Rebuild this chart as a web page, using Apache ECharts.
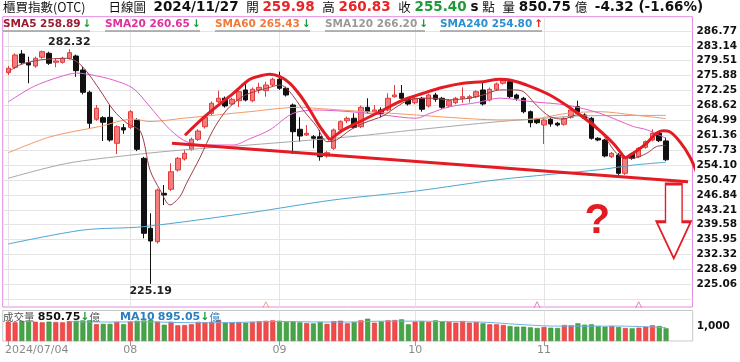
<!DOCTYPE html>
<html><head><meta charset="utf-8">
<script src="https://cdn.jsdelivr.net/npm/echarts@6/dist/echarts.min.js"></script>
<style>html,body{margin:0;padding:0;background:#fff}#c{width:740px;height:362px}</style>
</head><body><div id="c"></div>
<script>
// ---------- DATA ----------
const dates = [
'2024/07/04','2024/07/05','2024/07/08','2024/07/09','2024/07/10','2024/07/11','2024/07/12','2024/07/15','2024/07/16','2024/07/17','2024/07/18','2024/07/19','2024/07/22','2024/07/23','2024/07/26','2024/07/29','2024/07/30','2024/07/31',
'2024/08/01','2024/08/02','2024/08/05','2024/08/06','2024/08/07','2024/08/08','2024/08/09','2024/08/12','2024/08/13','2024/08/14','2024/08/15','2024/08/16','2024/08/19','2024/08/20','2024/08/21','2024/08/22','2024/08/23','2024/08/26','2024/08/27','2024/08/28','2024/08/29','2024/08/30',
'2024/09/02','2024/09/03','2024/09/04','2024/09/05','2024/09/06','2024/09/09','2024/09/10','2024/09/11','2024/09/12','2024/09/13','2024/09/16','2024/09/18','2024/09/19','2024/09/20','2024/09/23','2024/09/24','2024/09/25','2024/09/26','2024/09/27','2024/09/30',
'2024/10/01','2024/10/04','2024/10/07','2024/10/08','2024/10/09','2024/10/11','2024/10/14','2024/10/15','2024/10/16','2024/10/17','2024/10/18','2024/10/21','2024/10/22','2024/10/23','2024/10/24','2024/10/25','2024/10/28','2024/10/29','2024/10/30',
'2024/11/01','2024/11/04','2024/11/05','2024/11/06','2024/11/07','2024/11/08','2024/11/11','2024/11/12','2024/11/13','2024/11/14','2024/11/15','2024/11/18','2024/11/19','2024/11/20','2024/11/21','2024/11/22','2024/11/25','2024/11/26','2024/11/27'];
// [open, close, low, high]
const ohlc = [
[276.60,277.67,276.04,278.23],[277.91,280.91,277.50,281.30],[281.15,279.03,278.70,282.10],[279.03,278.47,274.02,280.49],[278.23,280.10,277.80,280.50],
[280.35,281.71,280.00,282.00],[281.32,278.89,278.50,281.70],[279.13,279.45,277.91,280.10],[279.13,280.10,278.80,280.50],[280.10,281.47,279.80,282.32],
[280.66,277.09,275.62,281.00],[277.26,271.83,271.30,278.06],[271.83,264.28,263.06,272.20],[265.25,267.93,264.90,268.73],[265.64,264.52,259.97,266.00],
[265.74,260.21,259.80,268.73],[259.41,263.45,256.80,263.80],[263.21,262.65,261.70,264.10],[263.30,267.10,262.90,267.50],[265.08,257.95,257.50,265.50],
[255.75,237.49,236.28,256.10],[238.71,235.62,225.19,242.36],[235.45,248.04,235.00,248.40],[247.23,246.82,244.39,249.25],[248.21,252.49,247.80,254.54],
[252.91,255.75,252.50,256.10],[255.59,256.97,255.20,257.78],[257.95,260.38,257.60,260.80],[260.38,262.40,260.00,262.80],[263.45,265.74,263.00,266.10],
[266.71,269.15,266.30,269.60],[269.54,270.37,269.20,272.22],[270.37,268.49,268.10,270.80],[268.98,270.12,268.60,270.50],[269.78,271.97,268.25,272.40],
[272.39,269.95,269.60,274.02],[269.78,272.56,269.40,273.00],[272.39,273.04,271.58,274.16],[272.22,273.60,270.75,274.41],[273.60,275.00,273.20,275.40],
[275.00,272.80,272.40,276.84],[272.80,271.17,270.80,273.20],[268.73,262.23,256.80,269.10],[262.82,261.18,259.80,265.74],[261.43,261.84,261.20,263.86],
[261.01,260.63,258.19,261.40],[261.01,256.14,255.17,262.65],[256.32,257.12,255.90,257.50],[258.19,262.65,257.80,263.00],[262.65,264.67,262.30,265.00],
[264.91,265.50,264.30,265.90],[265.50,263.30,263.00,266.71],[263.45,268.17,263.10,268.60],[268.17,267.10,266.80,270.37],[267.10,267.52,266.90,268.73],
[267.52,266.71,265.74,268.17],[267.52,270.37,267.20,271.58],[270.75,271.17,270.50,273.60],[271.58,270.37,270.00,273.60],[270.37,268.98,268.60,270.70],
[269.29,270.37,268.90,270.70],[270.37,267.69,267.10,270.70],[268.49,271.17,268.10,271.50],[271.17,270.12,269.50,271.70],[270.37,268.17,267.80,270.70],
[268.49,269.78,268.10,270.10],[269.29,270.37,268.90,270.70],[270.37,270.75,269.29,273.04],[270.37,270.75,269.30,271.20],[270.75,271.97,270.40,272.30],
[272.39,268.98,268.60,274.16],[269.95,272.56,269.60,273.00],[272.56,273.85,272.20,274.20],[274.02,274.82,273.70,275.20],[274.41,270.75,270.40,274.80],
[271.17,270.37,269.78,271.50],[270.37,267.10,266.70,270.70],[267.10,264.42,263.30,267.40],[265.25,264.42,264.10,265.60],[263.86,265.08,259.24,265.40],
[265.25,264.11,263.45,265.60],[264.28,263.86,263.50,264.60],[264.03,265.50,263.70,265.80],[265.74,267.52,265.40,267.90],[268.32,266.71,266.30,269.78],
[266.30,265.50,265.10,266.70],[265.50,260.63,260.30,265.80],[260.63,260.21,259.90,260.90],[260.21,256.32,256.00,260.50],[256.14,256.97,255.80,257.30],
[256.56,252.10,251.70,257.00],[252.10,256.14,251.70,256.50],[256.80,255.75,255.40,257.10],[256.14,258.19,255.80,258.50],[258.43,259.80,258.10,260.10],
[260.21,261.84,259.90,262.82],[261.84,260.04,259.70,262.20],[259.98,255.40,255.10,260.83]];
// volume (億)
const volume = [
1290,1250,1340,1290,1290,1250,1300,1270,1250,1330,1360,1380,1390,1130,1150,1150,1290,1130,1300,1360,
1380,1420,1300,1090,1290,1050,1070,1120,1280,1260,1290,1420,1240,1250,1270,1230,1280,1320,1350,1380,
1360,1280,1330,1250,1200,1180,1280,1150,1330,1360,1185,1273,1385,1496,1228,1318,1385,1407,1452,1117,
1295,1340,1273,1385,1295,1273,1228,1340,1228,1273,1185,1117,1117,1072,1005,960,960,915,871,938,
893,871,1072,1050,1185,1095,1117,1005,960,1005,938,871,848,893,960,1050,1005,850.75];
// moving averages: [index, value]
const sma5 = [[0,276.8],[1.7,278.5],[4.7,279.7],[8.6,280.1],[10.1,279.3],[11.6,276.8],[13.5,272.4],[15.5,267.5],[17.5,264.3],[19.5,262.3],[20.9,252.9],[22.4,248.0],[23.85,244.4],[25.3,246.4],[26.3,249.7],[28.3,256.0],[30.2,262.6],[32.2,267.5],[34.2,270.4],[35.6,271.6],[38.1,272.8],[40.1,273.6],[41.5,272.0],[43.5,267.5],[45.5,263.5],[47.0,259.8],[48.4,260.2],[50.4,262.6],[52.4,264.3],[55.3,266.1],[57.3,268.3],[59.2,270.0],[62.2,270.4],[65.1,270.0],[68.1,270.4],[70.1,271.2],[72.5,272.4],[74.5,272.4],[76.0,272.0],[77.9,268.7],[79.9,265.9],[81.9,265.3],[83.8,266.3],[85.3,265.9],[86.8,263.5],[88.3,260.2],[89.7,257.0],[90.9,255.8],[92.2,255.8],[94.2,257.0],[95.6,258.6],[97,258.89]];
const sma20 = [[0,269.5],[3.7,273.2],[7.6,275.6],[10.1,276.5],[12.5,276.0],[15.5,274.8],[18.4,272.8],[20.9,268.3],[23.4,263.5],[25.8,260.2],[28.3,259.0],[33.2,259.0],[35.6,260.5],[38.6,262.7],[42.0,266.7],[45.5,267.5],[50.4,267.1],[55.3,266.3],[60.2,265.5],[62.2,266.7],[65.1,268.3],[69.1,269.3],[72.5,270.4],[77.4,269.5],[82.4,268.7],[87.3,266.7],[92.2,263.5],[94.2,262.7],[97,260.65]];
const sma60 = [[0,257.1],[6.2,261.0],[13.5,263.5],[18.4,265.3],[20.9,264.7],[25.8,265.5],[30.7,266.3],[35.6,267.1],[43.0,268.2],[45.5,267.9],[52.9,267.1],[60.2,266.3],[65.1,265.7],[72.5,265.1],[77.4,265.3],[82.4,266.7],[87.3,267.1],[92.2,266.3],[97,265.43]];
const sma120 = [[0,250.9],[8.6,254.5],[18.4,256.6],[25.8,257.8],[35.6,259.0],[50.4,261.0],[60.2,262.7],[72.5,264.7],[77.4,265.3],[84.8,266.1],[97,266.20]];
const sma240 = [[0,234.9],[11.1,238.3],[19.9,239.1],[35.6,242.5],[47.9,245.6],[60.2,247.8],[72.5,250.6],[87.3,253.0],[92.2,254.1],[97,254.80]];
const volMa10 = [[9,1295],[15,1270],[20,1290],[25,1240],[30,1220],[35,1260],[40,1310],[45,1280],[50,1270],[55,1330],[60,1330],[65,1300],[70,1265],[75,1120],[80,1005],[85,995],[90,1000],[94,955],[97,895.05]];
// y-axis ticks and labels
const yGridValues = [221.43,225.06,228.69,232.32,235.95,239.58,243.21,246.84,250.47,254.10,257.73,261.36,264.99,268.62,272.25,275.88,279.51,283.14,286.77];
const yLabelValues = [225.06,228.69,232.32,235.95,239.58,243.21,246.84,250.47,254.10,257.73,261.36,264.99,268.62,272.25,275.88,279.51,283.14,286.77];
const volLabelValues = [1000];
// hand-drawn annotations, in [index, value]
const neckline = [[24.14,259.41],[100.28,250.06]];
const arcA = [[26.06,261.36],[29.26,266.30],[33.18,271.58],[35.64,274.99],[37.12,275.80],[38.59,276.21],[40.07,275.62],[41.54,274.02],[43.02,271.17],[44.49,267.52],[45.97,263.45],[47.44,260.21]];
const arcB = [[47.44,260.21],[49.40,262.65],[52.35,265.08],[55.30,267.52],[58.25,269.95],[61.20,271.58],[64.15,273.04],[67.10,274.02],[70.05,274.41],[72.51,274.99],[74.0,274.82],[76.45,273.60],[79.88,271.17],[83.32,267.52],[86.27,263.86],[89.22,259.41],[90.94,255.76]];
const arcC = [[90.94,255.76],[92.17,256.97],[94.15,259.41],[95.62,261.84],[96.59,262.48],[97.58,262.23],[99.06,259.80],[100.53,256.14],[101.52,252.42]];
const arrowAt = [98.15,240.44];
const questionAt = [86.9,240.4];
const deductIdx = [38,78,93];
const deductVal = 220.1;
// header texts
const titleInfo = {name:'櫃買指數(OTC)', kind:'日線圖', date:'2024/11/27', open:'259.98', high:'260.83', close:'255.40', vol:'850.75', chg:'-4.32 (-1.66%)'};
const legendNames = ['SMA5','SMA20','SMA60','SMA120','SMA240'];
const legendValues = ['258.89','260.65','265.43','266.20','254.80'];
const legendDir = ['↓','↓','↓','↓','↑'];
const volHeader = {vol:'850.75', ma:'MA10', maVal:'895.05'};

// ---------- CHART ----------
const RED='#E31B23';
const maColors = ['#9C3F48','#E35EC8','#F29A66','#A8A8A8','#4EA6D2'];
const legendColors = ['#9B1B30','#E0309E','#F07A3A','#999999','#2B8FD0'];
const up = i => ohlc[i][1] >= ohlc[i][0];
const monthIdx = dates.map((d,i)=> (i===0 || d.slice(5,7)!==dates[i-1].slice(5,7)) ? i : -1).filter(i=>i>=0);

const chart = echarts.init(document.getElementById('c'), null, {renderer:'canvas'});
const xCommon = {type:'value', min:-0.826, max:100.93, axisLine:{show:false}};
function maSeries(data, color){
  return {type:'line', xAxisIndex:0, yAxisIndex:0, data, smooth:0.3, showSymbol:false, symbol:'none',
    lineStyle:{width:1, color}, z:3, silent:true};
}
function annoSeries(data, extra){
  return Object.assign({type:'line', xAxisIndex:0, yAxisIndex:0, data, smooth:0.35, showSymbol:false, symbol:'none', clip:false,
    lineStyle:{width:3, color:RED}, z:10, silent:true}, extra||{});
}
const lgX = [3,105,215,325,440];
const lgW = [87,95,95,100,102];
const graphics = [];
// title
graphics.push({type:'text', x:3, y:7, style:{
  text:`{a|${titleInfo.name}}      {a|${titleInfo.kind}}  {d|${titleInfo.date}}  {a|開} {r|${titleInfo.open}}  {a|高} {r|${titleInfo.high}}  {a|收} {g|${titleInfo.close}} {d|s} {a|點}  {a|量} {d|${titleInfo.vol}} {a|億}  {d|${titleInfo.chg}}`,
  verticalAlign:'middle', fontSize:12, fontFamily:'DejaVu Sans',
  rich:{
    a:{fontFamily:'Noto Sans CJK TC', fontSize:12.5, fill:'#111'},
    d:{fontFamily:'DejaVu Sans', fontWeight:'bold', fontSize:13.5, fill:'#111'},
    r:{fontFamily:'DejaVu Sans', fontWeight:'bold', fontSize:13.5, fill:'#E8262A'},
    g:{fontFamily:'DejaVu Sans', fontWeight:'bold', fontSize:13.5, fill:'#1E9A38'}
  }}});
legendNames.forEach((n,k)=>{
  graphics.push({type:'rect', shape:{x:lgX[k], y:30.2, width:lgW[k], height:1.6}, style:{fill:'#9d9d9d'}, z:50});
  graphics.push({type:'text', x:lgX[k], y:24.5, z:51, style:{
    text:`{t|${n} ${legendValues[k]}}{a|${legendDir[k]}}`, verticalAlign:'middle',
    rich:{t:{fontFamily:'DejaVu Sans', fontWeight:'bold', fontSize:10.5, fill:legendColors[k]},
          a:{fontFamily:'DejaVu Sans', fontWeight:'bold', fontSize:10.5, fill: legendDir[k]==='↑' ? '#E82020' : '#1A9A3A', padding:[0,0,0,2]}}}});
});
graphics.push({type:'text', x:3, y:317.5, z:51, style:{
  text:`{g|成交量} {b|${volHeader.vol}}{ar|↓}{g|億}`, verticalAlign:'middle',
  rich:{g:{fontFamily:'Noto Sans CJK TC', fontSize:10.5, fill:'#555'}, b:{fontFamily:'DejaVu Sans', fontWeight:'bold', fontSize:11, fill:'#111'},
        ar:{fontFamily:'DejaVu Sans', fontWeight:'bold', fontSize:11, fill:'#1A9A3A'}}}});
graphics.push({type:'text', x:120, y:317.5, z:51, style:{
  text:`{m|${volHeader.ma}}{b|${volHeader.maVal}}{ar|↓}{c|億}`, verticalAlign:'middle',
  rich:{m:{fontFamily:'DejaVu Sans', fontWeight:'bold', fontSize:11, fill:'#2B7FC0', padding:[0,3,0,0]}, b:{fontFamily:'DejaVu Sans', fontWeight:'bold', fontSize:11, fill:'#2B7FC0'},
        ar:{fontFamily:'DejaVu Sans', fontWeight:'bold', fontSize:11, fill:'#1A9A3A'}, c:{fontFamily:'Noto Sans CJK TC', fontSize:10.5, fill:'#2B7FC0'}}}});

const arrowPath = 'path://M9,0L25.6,0L25.6,37.7L34.3,37.7L17.3,74.3L0,37.7L9,37.7Z';

chart.setOption({
  animation:false,
  backgroundColor:'#fff',
  textStyle:{fontFamily:'DejaVu Sans'},
  grid:[
    {left:2.7, top:16.7, width:690, height:290.3, show:true, borderColor:'#E38BE0', borderWidth:1},
    {left:2.7, top:310.5, width:690, height:30.5, show:true, borderColor:'#C9C9C9', borderWidth:1}
  ],
  xAxis:[
    Object.assign({gridIndex:0, axisTick:{show:false, customValues:monthIdx}, axisLabel:{show:false}, splitLine:{show:true, lineStyle:{color:'#E4E4E4'}}}, xCommon),
    Object.assign({gridIndex:1, axisTick:{show:true, customValues:monthIdx, length:5, lineStyle:{color:'#999'}},
      axisLabel:{show:true, customValues:monthIdx, margin:4, color:'#8a8a8a', fontSize:11, fontFamily:'DejaVu Sans',
        formatter:(v)=>{const i=Math.round(v); return i===0 ? '{f|'+dates[i]+'}' : dates[i].slice(5,7);},
        rich:{f:{padding:[0,0,0,57], color:'#8a8a8a', fontSize:11, fontFamily:'DejaVu Sans'}}},
      splitLine:{show:true, lineStyle:{color:'#E4E4E4'}}}, xCommon)
  ],
  yAxis:[
    {type:'value', gridIndex:0, position:'right', min:219.55, max:290.23, axisLine:{show:false},
      axisTick:{show:false, customValues:yGridValues},
      axisLabel:{customValues:yLabelValues, formatter:v=>Number(v).toFixed(2), color:'#111', fontWeight:'bold', fontSize:10.5, fontFamily:'DejaVu Sans', margin:4},
      splitLine:{show:true, lineStyle:{color:'#E4E4E4'}}},
    {type:'value', gridIndex:1, position:'right', min:0, max:2045, axisLine:{show:false}, axisTick:{show:false},
      axisLabel:{customValues:volLabelValues, color:'#111', fontWeight:'bold', fontSize:10.5, fontFamily:'DejaVu Sans', margin:4},
      splitLine:{show:false}}
  ],
  series:[
    {type:'candlestick', xAxisIndex:0, yAxisIndex:0, barWidth:5,
      data: ohlc.map((d,i)=>[i,d[0],d[1],d[2],d[3]]),
      itemStyle:{color:'#F47C7C', color0:'#111', borderColor:'#E03C3C', borderColor0:'#111', borderWidth:1},
      markPoint:{symbol:'circle', symbolSize:1, itemStyle:{color:'rgba(0,0,0,0)'},
        label:{show:true, formatter:p=>Number(p.value).toFixed(2), color:'#222', fontWeight:'bold', fontSize:11, fontFamily:'DejaVu Sans'},
        data:[{type:'max', valueDim:'highest', label:{position:'top', distance:1}},
              {type:'min', valueDim:'lowest', label:{position:'bottom', distance:1}}]}},
    maSeries(sma240, maColors[4]),
    maSeries(sma120, maColors[3]),
    maSeries(sma60, maColors[2]),
    maSeries(sma20, maColors[1]),
    maSeries(sma5, maColors[0]),
    {type:'bar', xAxisIndex:1, yAxisIndex:1, barWidth:5,
      data: volume.map((v,i)=>({value:[i,v], itemStyle: up(i) ? {color:'#F24B4B', borderColor:'#DA3434', borderWidth:0.6} : {color:'#48A448', borderColor:'#318F31', borderWidth:0.6}}))},
    {type:'line', xAxisIndex:1, yAxisIndex:1, data:volMa10, smooth:0.3, showSymbol:false, symbol:'none', lineStyle:{width:1, color:'#6FB3DE'}, z:4},
    annoSeries(neckline, {smooth:false,
      markPoint:{data:[
        {coord:arrowAt, symbol:arrowPath, symbolSize:[34.3,74.3], symbolKeepAspect:false, itemStyle:{color:'#fff', borderColor:RED, borderWidth:2}, label:{show:false}},
        {coord:questionAt, symbol:'circle', symbolSize:1, itemStyle:{color:'rgba(0,0,0,0)'},
          label:{show:true, position:'inside', formatter:'?', color:RED, fontSize:42, fontWeight:'bold', fontFamily:'Liberation Sans'}}]}}),
    annoSeries(arcA),
    annoSeries(arcB),
    annoSeries(arcC),
    {type:'scatter', xAxisIndex:0, yAxisIndex:0, silent:true, clip:false,
      symbol:'path://M0,10L5,0L10,10', symbolSize:[6,6],
      data: deductIdx.map((i,k)=>({value:[i,deductVal], itemStyle:{color:'rgba(0,0,0,0)', borderColor:['#E8905A','#D760C4','#D070A8'][k], borderWidth:1}}))}
  ],
  graphic: graphics
});
</script></body></html>
